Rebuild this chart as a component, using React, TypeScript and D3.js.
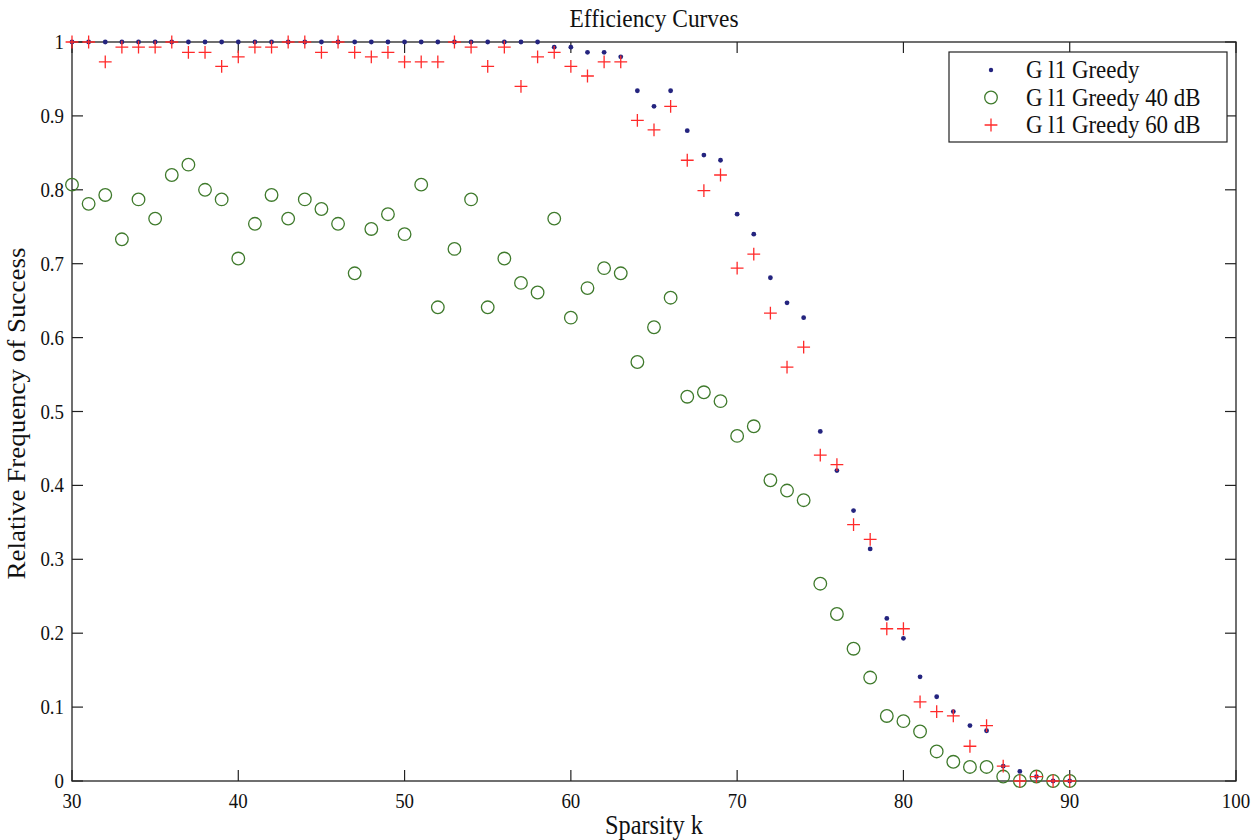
// App.tsx
import React, { useEffect, useRef } from 'react';
import * as d3 from 'd3';

// sparsity levels on the x axis
const sparsity = d3.range(30, 91);

// relative frequency of success, one value per sparsity level
const greedy = [
  1, 1, 1, 1, 1, 1, 1, 1, 1, 1,
  1, 1, 1, 1, 1, 1, 1, 1, 1, 1,
  1, 1, 1, 1, 1, 1, 1, 1, 1, 0.993,
  0.993, 0.986, 0.986, 0.98, 0.934, 0.913, 0.934, 0.88, 0.847, 0.84,
  0.767, 0.74, 0.681, 0.647, 0.627, 0.473, 0.42, 0.366, 0.314, 0.22,
  0.193, 0.141, 0.114, 0.094, 0.075, 0.068, 0.02, 0.013, 0.006, 0,
  0,
];

const greedy40 = [
  0.807, 0.781, 0.793, 0.733, 0.787, 0.761, 0.82, 0.834, 0.8, 0.787,
  0.707, 0.754, 0.793, 0.761, 0.787, 0.774, 0.754, 0.687, 0.747, 0.767,
  0.74, 0.807, 0.641, 0.72, 0.787, 0.641, 0.707, 0.674, 0.661, 0.761,
  0.627, 0.667, 0.694, 0.687, 0.567, 0.614, 0.654, 0.52, 0.526, 0.514,
  0.467, 0.48, 0.407, 0.393, 0.38, 0.267, 0.226, 0.179, 0.14, 0.088,
  0.081, 0.067, 0.04, 0.026, 0.019, 0.019, 0.006, 0, 0.006, 0,
  0,
];

const greedy60 = [
  1, 1, 0.973, 0.993, 0.993, 0.993, 1, 0.986, 0.986, 0.967,
  0.98, 0.993, 0.993, 1, 1, 0.986, 1, 0.986, 0.98, 0.986,
  0.973, 0.973, 0.973, 1, 0.993, 0.967, 0.993, 0.94, 0.98, 0.986,
  0.967, 0.954, 0.973, 0.973, 0.894, 0.881, 0.913, 0.84, 0.799, 0.82,
  0.694, 0.713, 0.633, 0.56, 0.587, 0.441, 0.428, 0.347, 0.327, 0.206,
  0.206, 0.107, 0.094, 0.088, 0.047, 0.075, 0.02, 0, 0.006, 0,
  0,
];

const seriesNames = ['G l1 Greedy', 'G l1 Greedy 40 dB', 'G l1 Greedy 60 dB'];
const xTicks = [30, 40, 50, 60, 70, 80, 90, 100];
const yTicks = [0, 0.1, 0.2, 0.3, 0.4, 0.5, 0.6, 0.7, 0.8, 0.9, 1];

const FONT = '"Liberation Serif", "Times New Roman", serif';
const SQUEEZE = 0.9; // the original text is narrow

const App = () => {
  const ref = useRef<SVGSVGElement>(null);

  useEffect(() => {
    if (!ref.current) return;
    const W = 1260, H = 840;
    const margin = { top: 42, right: 24, bottom: 59, left: 72 };
    const width = W - margin.left - margin.right,
          height = H - margin.top - margin.bottom;

    const svg = d3.select(ref.current);
    svg.selectAll('*').remove();

    svg.append('rect').attr('width', W).attr('height', H).attr('fill', '#fff');

    const g = svg.append('g').attr('transform', `translate(${margin.left},${margin.top})`);

    const x = d3.scaleLinear().domain([30, 100]).range([0, width]);
    const y = d3.scaleLinear().domain([0, 1]).range([height, 0]);

    // helper for horizontally squeezed text
    const label = (parent: any, px: number, py: number, txt: string, size: number, anchor: string) =>
      parent.append('text')
        .attr('transform', `translate(${px},${py}) scale(${SQUEEZE},1)`)
        .attr('text-anchor', anchor)
        .attr('font-family', FONT)
        .attr('font-size', size)
        .attr('fill', '#111')
        .text(txt);

    // inward ticks on all four sides
    const tickLen = 11;
    const ticks = g.append('g').attr('stroke', '#222').attr('stroke-width', 1.2);
    xTicks.forEach(t => {
      ticks.append('line').attr('x1', x(t)).attr('x2', x(t)).attr('y1', height).attr('y2', height - tickLen);
      ticks.append('line').attr('x1', x(t)).attr('x2', x(t)).attr('y1', 0).attr('y2', tickLen);
      label(g, x(t), height + 27, String(t), 21, 'middle');
    });
    yTicks.forEach(t => {
      ticks.append('line').attr('x1', 0).attr('x2', tickLen).attr('y1', y(t)).attr('y2', y(t));
      ticks.append('line').attr('x1', width).attr('x2', width - tickLen).attr('y1', y(t)).attr('y2', y(t));
      label(g, -8, y(t) + 7, d3.format('~g')(t), 21, 'end');
    });

    // box
    g.append('rect')
      .attr('width', width).attr('height', height)
      .attr('fill', 'none').attr('stroke', '#222').attr('stroke-width', 1.3);

    // series
    const blue = '#24247f', green = '#3f7a2c', red = '#ff2a2a';
    const pts = (vals: number[]) => sparsity.map((k, i) => ({ k, v: vals[i] }));

    g.append('g').selectAll('circle')
      .data(pts(greedy))
      .join('circle')
      .attr('cx', d => x(d.k)).attr('cy', d => y(d.v))
      .attr('r', 2.4).attr('fill', blue);

    g.append('g').selectAll('circle')
      .data(pts(greedy40))
      .join('circle')
      .attr('cx', d => x(d.k)).attr('cy', d => y(d.v))
      .attr('r', 6.3).attr('fill', 'none').attr('stroke', green).attr('stroke-width', 1.3);

    const arm = 6.4;
    g.append('g').selectAll('path')
      .data(pts(greedy60))
      .join('path')
      .attr('d', d => `M${x(d.k) - arm},${y(d.v)}H${x(d.k) + arm}M${x(d.k)},${y(d.v) - arm}V${y(d.v) + arm}`)
      .attr('fill', 'none').attr('stroke', red).attr('stroke-width', 1.3);

    // titles
    label(svg, 654, 27, 'Efficiency Curves', 26, 'middle');
    label(svg, 654, 834, 'Sparsity k', 27, 'middle');
    svg.append('text')
      .attr('transform', `translate(25,${margin.top + height / 2 + 2}) rotate(-90) scale(1,${SQUEEZE})`)
      .attr('text-anchor', 'middle')
      .attr('font-family', FONT).attr('font-size', 27).attr('fill', '#111')
      .text('Relative Frequency of Success');

    // legend
    const lg = svg.append('g').attr('transform', 'translate(949,52)');
    lg.append('rect').attr('width', 278).attr('height', 90)
      .attr('fill', '#fff').attr('stroke', '#222').attr('stroke-width', 1.2);
    const rowY = d3.scalePoint().domain(seriesNames).range([18, 73]);
    seriesNames.forEach((name, i) => {
      const ry = rowY(name) ?? 0;
      if (i === 0) {
        lg.append('circle').attr('cx', 42).attr('cy', ry).attr('r', 2.2).attr('fill', blue);
      } else if (i === 1) {
        lg.append('circle').attr('cx', 42).attr('cy', ry).attr('r', 6.3)
          .attr('fill', 'none').attr('stroke', green).attr('stroke-width', 1.3);
      } else {
        lg.append('path').attr('d', `M${42 - arm},${ry}H${42 + arm}M42,${ry - arm}V${ry + arm}`)
          .attr('stroke', red).attr('stroke-width', 1.3);
      }
      label(lg, 77, ry + 8, name, 25.5, 'start');
    });
  }, []);

  return (
    <svg ref={ref} width={1260} height={840}
      style={{ position: 'absolute', left: 0, top: 0, display: 'block' }} />
  );
};

export default App;
